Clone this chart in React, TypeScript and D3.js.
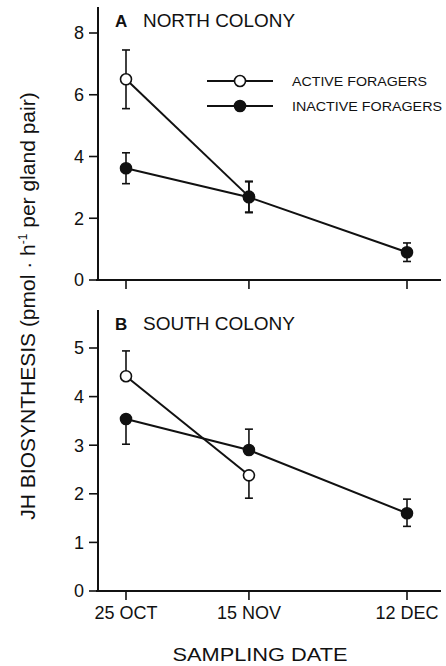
import React from "react";
import * as d3 from "d3";

// sampling dates
const dateLabels = ["25 OCT", "15 NOV", "12 DEC"];
const dates = [new Date(1990, 9, 25), new Date(1990, 10, 15), new Date(1990, 11, 12)];

// A: north colony
const northActive = [6.5, 2.7, null];
const northActiveUp = [0.95, 0.5, null];
const northActiveLo = [0.95, 0.5, null];
const northInactive = [3.62, 2.68, 0.9];
const northInactiveUp = [0.5, 0.5, 0.3];
const northInactiveLo = [0.5, 0.5, 0.3];
const northTicks = [0, 2, 4, 6, 8];

// B: south colony
const southActive = [4.42, 2.38, null];
const southActiveUp = [0.52, null, null];
const southActiveLo = [null, 0.47, null];
const southInactive = [3.54, 2.9, 1.6];
const southInactiveUp = [null, 0.43, 0.29];
const southInactiveLo = [0.52, null, 0.27];
const southTicks = [0, 1, 2, 3, 4, 5];

const font = "'Liberation Sans', Arial, Helvetica, sans-serif";

const x = d3.scaleTime().domain([dates[0], dates[2]]).range([126, 407]);

type Panel = {
  letter: string;
  title: string;
  y: d3.ScaleLinear<number, number>;
  top: number;
  ticks: number[];
  active: (number | null)[];
  activeUp: (number | null)[];
  activeLo: (number | null)[];
  inactive: (number | null)[];
  inactiveUp: (number | null)[];
  inactiveLo: (number | null)[];
  showDates: boolean;
};

const panels: Panel[] = [
  {
    letter: "A", title: "NORTH COLONY",
    y: d3.scaleLinear().domain([0, 8]).range([280, 33]), top: 7,
    ticks: northTicks,
    active: northActive, activeUp: northActiveUp, activeLo: northActiveLo,
    inactive: northInactive, inactiveUp: northInactiveUp, inactiveLo: northInactiveLo,
    showDates: false,
  },
  {
    letter: "B", title: "SOUTH COLONY",
    y: d3.scaleLinear().domain([0, 5]).range([591, 348]), top: 310,
    ticks: southTicks,
    active: southActive, activeUp: southActiveUp, activeLo: southActiveLo,
    inactive: southInactive, inactiveUp: southInactiveUp, inactiveLo: southInactiveLo,
    showDates: true,
  },
];

function Series({ vals, up, lo, y, filled }: any) {
  const pts = vals.map((v: number | null, i: number) => ({ v, d: dates[i], up: up[i], lo: lo[i] }))
    .filter((p: any) => p.v != null);
  const line = d3.line<any>().x(p => x(p.d)).y(p => y(p.v));
  return (
    <g>
      <path d={line(pts) || ""} fill="none" stroke="#111" strokeWidth={2} />
      {pts.map((p: any, i: number) => {
        const cx = x(p.d);
        const segs: JSX.Element[] = [];
        if (p.up != null) {
          segs.push(<line key="u" x1={cx} x2={cx} y1={y(p.v)} y2={y(p.v + p.up)} stroke="#111" strokeWidth={1.6} />);
          segs.push(<line key="uc" x1={cx - 4} x2={cx + 4} y1={y(p.v + p.up)} y2={y(p.v + p.up)} stroke="#111" strokeWidth={1.6} />);
        }
        if (p.lo != null) {
          segs.push(<line key="l" x1={cx} x2={cx} y1={y(p.v)} y2={y(p.v - p.lo)} stroke="#111" strokeWidth={1.6} />);
          segs.push(<line key="lc" x1={cx - 4} x2={cx + 4} y1={y(p.v - p.lo)} y2={y(p.v - p.lo)} stroke="#111" strokeWidth={1.6} />);
        }
        return <g key={i}>{segs}</g>;
      })}
      {pts.map((p: any, i: number) => (
        <circle key={"c" + i} cx={x(p.d)} cy={y(p.v)} r={5.5}
          fill={filled ? "#111" : "#fff"} stroke="#111" strokeWidth={1.6} />
      ))}
    </g>
  );
}

function PanelView({ p }: { p: Panel }) {
  const y0 = p.y(0);
  return (
    <g>
      <line x1={98} x2={98} y1={p.top} y2={y0} stroke="#111" strokeWidth={2} />
      <line x1={96} x2={441} y1={y0} y2={y0} stroke="#111" strokeWidth={2} />
      {p.ticks.map(t => (
        <g key={t}>
          <line x1={89} x2={98} y1={p.y(t)} y2={p.y(t)} stroke="#111" strokeWidth={1.6} />
          <text x={84} y={p.y(t)} dy="0.36em" textAnchor="end" fontSize={18} fontFamily={font} fill="#111">{t}</text>
        </g>
      ))}
      {dates.map((d, i) => (
        <line key={i} x1={x(d)} x2={x(d)} y1={y0} y2={y0 + 9} stroke="#111" strokeWidth={1.6} />
      ))}
      {p.showDates && dateLabels.map((l, i) => (
        <text key={l} x={x(dates[i])} y={y0 + 28} textAnchor="middle" fontSize={18} fontFamily={font} fill="#111">{l}</text>
      ))}
      <text x={115} y={p.top + 20} fontSize={17} fontWeight="bold" fontFamily={font} fill="#111">{p.letter}</text>
      <text x={143} y={p.top + 20} fontSize={18} textLength={152} lengthAdjust="spacingAndGlyphs" fontFamily={font} fill="#111">{p.title}</text>
      <Series vals={p.active} up={p.activeUp} lo={p.activeLo} y={p.y} filled={false} />
      <Series vals={p.inactive} up={p.inactiveUp} lo={p.inactiveLo} y={p.y} filled={true} />
    </g>
  );
}

export default function App() {
  const legend = [
    { label: "ACTIVE FORAGERS", filled: false, y: 81, w: 135 },
    { label: "INACTIVE FORAGERS", filled: true, y: 106, w: 150 },
  ];
  return (
    <svg width={446} height={666} style={{ position: "absolute", left: 0, top: 0, background: "#fff" }}>
      <rect width={446} height={666} fill="#fff" />
      {panels.map(p => <PanelView key={p.letter} p={p} />)}
      {legend.map(l => (
        <g key={l.label}>
          <line x1={207} x2={273} y1={l.y} y2={l.y} stroke="#111" strokeWidth={2} />
          <circle cx={240} cy={l.y} r={5.5} fill={l.filled ? "#111" : "#fff"} stroke="#111" strokeWidth={1.6} />
          <text x={292} y={l.y} dy="0.36em" fontSize={13} textLength={l.w} lengthAdjust="spacingAndGlyphs" fontFamily={font} fill="#111">{l.label}</text>
        </g>
      ))}
      <text transform="translate(35,306) rotate(-90)" textAnchor="middle" fontSize={21} fontFamily={font} fill="#111">
        JH BIOSYNTHESIS (pmol · h<tspan dy={-8} fontSize={12}>-1</tspan><tspan dy={8}> per gland pair)</tspan>
      </text>
      <text x={260} y={661} textAnchor="middle" fontSize={19} textLength={175} lengthAdjust="spacingAndGlyphs" fontFamily={font} fill="#111">SAMPLING DATE</text>
    </svg>
  );
}
